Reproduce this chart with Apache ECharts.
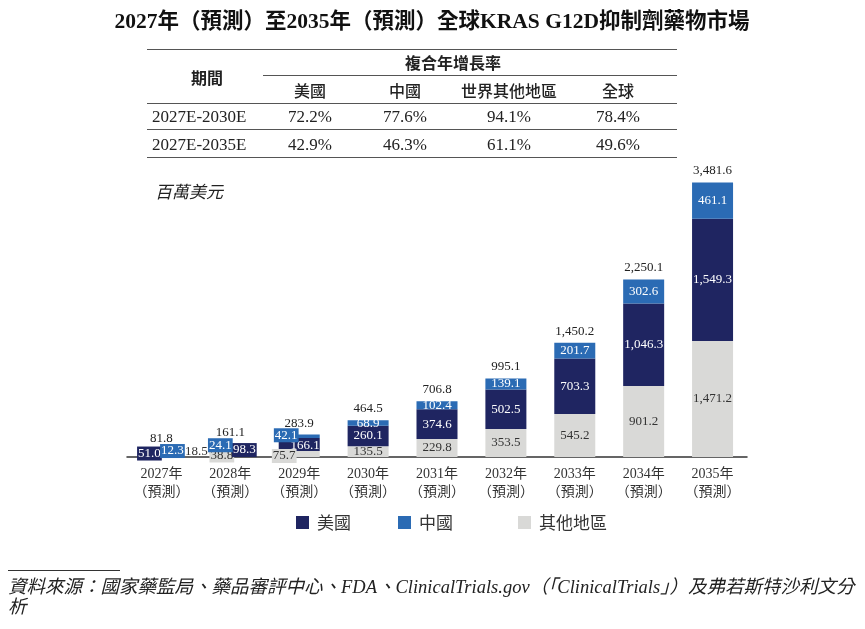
<!DOCTYPE html>
<html>
<head>
<meta charset="utf-8">
<script src="https://cdn.jsdelivr.net/npm/echarts@6/dist/echarts.min.js"></script>
<style>
body { margin: 0; background: #fff; }
#wrap { position: relative; width: 865px; height: 629px; overflow: hidden; }
#chart { position: absolute; left: 0; top: 0; width: 865px; height: 629px; }
#overlay { position: absolute; left: 0; top: 0; width: 865px; height: 629px; pointer-events: none; }
.t { position: absolute; white-space: nowrap; transform: translate(-50%, -50%); color: #222; }
.l { position: absolute; white-space: nowrap; transform: translate(0, -50%); color: #222; }
.serif { font-family: "Liberation Serif", "Noto Sans CJK TC", serif; }
.sans { font-family: "Noto Sans CJK TC", "Noto Sans", sans-serif; }
.rule { position: absolute; height: 0; border-top: 1.5px solid #555; }
</style>
</head>
<body>
<div id="wrap">
    <div id="chart"></div>
    <div id="overlay"></div>
</div>
<script>
// 圖表數據
var categories = ['2027年', '2028年', '2029年', '2030年', '2031年', '2032年', '2033年', '2034年', '2035年'];
var otherValues = [18.5, 38.8, 75.7, 135.5, 229.8, 353.5, 545.2, 901.2, 1471.2];
var usValues = [51.0, 98.3, 166.1, 260.1, 374.6, 502.5, 703.3, 1046.3, 1549.3];
var chinaValues = [12.3, 24.1, 42.1, 68.9, 102.4, 139.1, 201.7, 302.6, 461.1];
var totalValues = [81.8, 161.1, 283.9, 464.5, 706.8, 995.1, 1450.2, 2250.1, 3481.6];

// 複合年增長率表
var cagrRegions = ['美國', '中國', '世界其他地區', '全球'];
var cagrPeriods = ['2027E-2030E', '2027E-2035E'];
var cagr2030 = ['72.2%', '77.6%', '94.1%', '78.4%'];
var cagr2035 = ['42.9%', '46.3%', '61.1%', '49.6%'];

var serif = '"Liberation Serif", "Noto Sans CJK TC", serif';
var sans = '"Noto Sans CJK TC", "Noto Sans", sans-serif';
var navy = '#1f2561', blue = '#2b6bb4', gray = '#d9d9d7';

//小柱子標籤的偏移
var usTweaks = { 0: { o: [-12, 0], bg: true }, 1: { o: [14, 0], bg: true }, 2: { o: [6, 1], bg: false } };
var chinaTweaks = { 0: { o: [11, 0], bg: true }, 1: { o: [-10, 0], bg: true }, 2: { o: [-13, -1], bg: true } };
var otherTweaks = { 0: { o: [35, -5], bg: false }, 1: { o: [-8.5, 0], bg: true }, 2: { o: [-15, 2], bg: true } };

$ = function (id) { return document.getElementById(id); };

buildOverlay();
initChart();

/**
 * 數字格式
 */
function fmt(v) {
    return Number(v).toLocaleString('en-US', { minimumFractionDigits: 1, maximumFractionDigits: 1 });
}

/**
 * 標題、表格、註腳
 */
function buildOverlay() {
    var box = $('overlay');
    function text(str, x, y, cls, css) {
        var d = document.createElement('div');
        d.className = cls;
        d.style.left = x + 'px';
        d.style.top = y + 'px';
        d.style.cssText += css || '';
        d.innerHTML = str;
        box.appendChild(d);
    }
    function rule(x1, x2, y, css) {
        var d = document.createElement('div');
        d.className = 'rule';
        d.style.left = x1 + 'px';
        d.style.width = (x2 - x1) + 'px';
        d.style.top = y + 'px';
        d.style.cssText += css || '';
        box.appendChild(d);
    }

    text('2027年（預測）至2035年（預測）全球KRAS G12D抑制劑藥物市場', 432, 18, 't serif',
        'font-size:21.5px;font-weight:bold;color:#111;');

    rule(147, 677, 49);
    rule(263, 677, 75);
    rule(147, 677, 103);
    rule(147, 677, 129);
    rule(147, 677, 157);

    text('期間', 207, 77, 't sans', 'font-size:16px;font-weight:bold;');
    text('複合年增長率', 453, 62, 't sans', 'font-size:16px;font-weight:bold;');
    var cols = [310, 405, 509, 618];
    cagrRegions.forEach(function (r, i) {
        text(r, cols[i], 90, 't sans', 'font-size:16px;font-weight:500;');
    });
    var rows = [cagr2030, cagr2035];
    cagrPeriods.forEach(function (p, j) {
        var y = 117 + j * 28;
        text(p, 152, y, 'l serif', 'font-size:17px;');
        rows[j].forEach(function (v, i) {
            text(v, cols[i], y, 't serif', 'font-size:17px;');
        });
    });

    text('百萬美元', 155, 190, 'l serif', 'font-size:17px;font-style:italic;');

    rule(8, 120, 570, 'border-top:1px solid #333;');
    text('資料來源：國家藥監局、藥品審評中心、FDA、ClinicalTrials.gov（「ClinicalTrials」）及弗若斯特沙利文分<br>析',
        8, 597, 'l serif', 'font-size:18.5px;font-style:italic;line-height:20px;');
}

/**
 * 帶偏移的數據
 */
function buildData(values, tweaks, bg) {
    return values.map(function (v, i) {
        var tw = tweaks[i];
        if (!tw) return v;
        var lab = { offset: tw.o };
        if (tw.bg) {
            lab.backgroundColor = bg;
            lab.padding = [1, 1, 0, 1];
        }
        return { value: v, label: lab };
    });
}

function legendAt(name, left) {
    return {
        data: [name],
        left: left,
        top: 514,
        padding: 0,
        itemWidth: 13,
        itemHeight: 13,
        icon: 'rect',
        selectedMode: false,
        textStyle: { fontFamily: sans, fontSize: 17, color: '#333', padding: [0, 0, 0, 3] }
    };
}

function initChart() {
    var container = echarts.init($('chart'));
    var inLabel = function (color) {
        return {
            show: true,
            position: 'inside',
            color: color,
            fontFamily: serif,
            fontSize: 13,
            formatter: function (p) { return fmt(p.value); }
        };
    };
    var option = {
        animation: false,
        legend: [legendAt('美國', 296), legendAt('中國', 398), legendAt('其他地區', 518)],
        grid: { left: 127, right: 118, top: 181, bottom: 172 },
        xAxis: {
            type: 'category',
            data: categories,
            axisLine: { lineStyle: { color: '#333', width: 1.5 } },
            axisTick: { show: false },
            axisLabel: {
                interval: 0,
                hideOverlap: false,
                fontFamily: serif,
                fontSize: 14,
                color: '#333',
                lineHeight: 18,
                margin: 8,
                formatter: function (v) { return v + '\n（預測）'; }
            }
        },
        yAxis: { type: 'value', min: 0, max: 3500, show: false },
        series: [
            {
                name: '其他地區', type: 'bar', stack: 'm', barWidth: 41, barGap: '-100%',
                data: buildData(otherValues, otherTweaks, gray),
                itemStyle: { color: gray },
                label: inLabel('#333')
            },
            {
                name: '美國', type: 'bar', stack: 'm', barWidth: 41, barGap: '-100%',
                data: buildData(usValues, usTweaks, navy),
                itemStyle: { color: navy },
                label: inLabel('#fff')
            },
            {
                name: '中國', type: 'bar', stack: 'm', barWidth: 41, barGap: '-100%',
                data: buildData(chinaValues, chinaTweaks, blue),
                itemStyle: { color: blue },
                label: inLabel('#fff')
            },
            {
                name: '合計', type: 'bar', barWidth: 41, barGap: '-100%', z: 1,
                data: totalValues,
                itemStyle: { color: 'rgba(0,0,0,0)' },
                label: {
                    show: true,
                    position: 'top',
                    distance: 5,
                    color: '#222',
                    fontFamily: serif,
                    fontSize: 13,
                    formatter: function (p) { return fmt(p.value); }
                }
            }
        ]
    };
    container.setOption(option);
}
</script>
</body>
</html>
